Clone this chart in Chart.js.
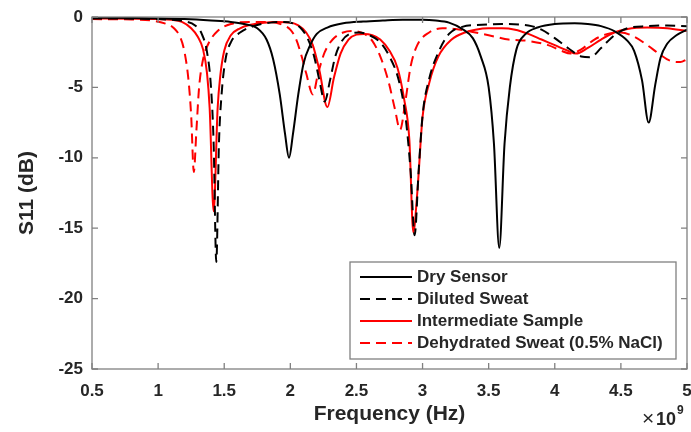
<!DOCTYPE html>
<html>
<head>
<meta charset="utf-8">
<script src="https://cdn.jsdelivr.net/npm/chart.js@4/dist/chart.umd.min.js"></script>
<style>
  body { margin: 0; background: #fff; }
  canvas { display: block; }
</style>
</head>
<body>
<canvas id="s11Chart" width="691" height="432"></canvas>
<script>
const xTicks = [0.5, 1, 1.5, 2, 2.5, 3, 3.5, 4, 4.5, 5];
const yTicks = [-25, -20, -15, -10, -5, 0];

// Dry Sensor
const dryFreq = [0.5, 0.8, 1.0, 1.2, 1.4, 1.55, 1.65, 1.75, 1.82, 1.87, 1.92, 1.96, 1.99, 2.02, 2.06, 2.1, 2.15, 2.2, 2.28, 2.4, 2.55, 2.7, 2.85, 3.0, 3.1, 3.2, 3.3, 3.38, 3.44, 3.5, 3.54, 3.58, 3.62, 3.66, 3.71, 3.78, 3.87, 4.0, 4.15, 4.25, 4.35, 4.45, 4.55, 4.6, 4.66, 4.71, 4.76, 4.8, 4.85, 4.92, 5.0];
const dryS11 = [-0.05, -0.07, -0.1, -0.15, -0.25, -0.35, -0.5, -0.8, -1.6, -3.0, -5.5, -8.3, -10.0, -8.3, -5.5, -3.3, -2.0, -1.2, -0.75, -0.45, -0.32, -0.25, -0.2, -0.2, -0.25, -0.4, -0.85, -1.5, -2.8, -5.0, -9.0, -16.4, -9.0, -5.0, -2.3, -1.2, -0.75, -0.5, -0.45, -0.5, -0.65, -1.0, -1.7, -2.4, -4.5, -7.5, -4.8, -2.9, -1.9, -1.3, -0.9];

// Diluted Sweat
const dilutedFreq = [0.5, 0.8, 1.0, 1.1, 1.2, 1.28, 1.33, 1.37, 1.4, 1.42, 1.44, 1.46, 1.48, 1.51, 1.55, 1.62, 1.72, 1.85, 1.95, 2.02, 2.08, 2.13, 2.18, 2.22, 2.26, 2.3, 2.34, 2.39, 2.45, 2.52, 2.6, 2.68, 2.75, 2.82, 2.87, 2.91, 2.94, 2.97, 3.0, 3.05, 3.12, 3.2, 3.3, 3.45, 3.6, 3.8, 3.9, 4.0, 4.1, 4.2, 4.27, 4.35, 4.45, 4.55, 4.7, 4.85, 5.0];
const dilutedS11 = [-0.1, -0.12, -0.15, -0.2, -0.3, -0.6, -1.2, -2.5, -5.0, -9.0, -17.4, -9.0, -5.5, -3.0, -1.8, -1.1, -0.65, -0.4, -0.35, -0.45, -0.8, -1.5, -2.8, -4.5, -6.0, -4.5, -2.8, -1.7, -1.2, -1.1, -1.3, -1.8, -2.8, -4.5, -7.0, -11.0, -15.5, -11.0, -7.0, -4.4, -2.5, -1.2, -0.7, -0.55, -0.5, -0.6, -0.9, -1.5, -2.2, -2.8, -2.85, -2.2, -1.3, -0.8, -0.65, -0.6, -0.65];

// Intermediate Sample
const interFreq = [0.5, 0.8, 1.0, 1.1, 1.18, 1.25, 1.3, 1.34, 1.37, 1.39, 1.42, 1.45, 1.47, 1.5, 1.55, 1.62, 1.7, 1.8, 1.9, 2.0, 2.06, 2.12, 2.17, 2.22, 2.28, 2.33, 2.38, 2.44, 2.5, 2.56, 2.62, 2.68, 2.75, 2.81, 2.86, 2.9, 2.93, 2.96, 3.0, 3.05, 3.12, 3.22, 3.32, 3.4, 3.5, 3.6, 3.7, 3.8, 3.9, 4.0, 4.1, 4.16, 4.25, 4.35, 4.45, 4.55, 4.7, 4.85, 5.0];
const interS11 = [-0.1, -0.12, -0.15, -0.2, -0.35, -0.8, -1.4, -2.3, -4.0, -6.5, -13.8, -6.5, -4.2, -2.4, -1.3, -0.8, -0.55, -0.4, -0.35, -0.4, -0.6, -1.1, -2.0, -3.8, -6.4, -4.3, -2.6, -1.6, -1.25, -1.2, -1.3, -1.6, -2.4, -3.6, -5.8, -8.7, -15.3, -12.5, -7.1, -4.7, -2.8, -1.6, -1.1, -0.9, -0.8, -0.8, -0.9, -1.2, -1.6, -2.0, -2.4, -2.6, -2.2, -1.6, -1.1, -0.85, -0.75, -0.8, -1.0];

// Dehydrated Sweat (0.5% NaCl)
const dehydFreq = [0.5, 0.8, 0.95, 1.05, 1.12, 1.17, 1.2, 1.23, 1.25, 1.27, 1.29, 1.31, 1.34, 1.38, 1.45, 1.55, 1.7, 1.85, 1.95, 2.0, 2.04, 2.08, 2.12, 2.17, 2.21, 2.26, 2.32, 2.4, 2.48, 2.56, 2.62, 2.68, 2.74, 2.79, 2.83, 2.87, 2.91, 2.96, 3.05, 3.15, 3.25, 3.4, 3.55, 3.65, 3.8, 3.95, 4.05, 4.12, 4.2, 4.3, 4.4, 4.5, 4.6, 4.7, 4.8, 4.87, 4.95, 5.0];
const dehydS11 = [-0.15, -0.18, -0.25, -0.45, -0.8, -1.5, -2.5, -4.5, -7.0, -11.0, -8.0, -5.0, -3.0, -1.9, -1.0, -0.5, -0.35, -0.35, -0.6, -0.9, -1.5, -2.6, -4.0, -5.5, -4.0, -2.5, -1.6, -1.1, -1.0, -1.2, -1.7, -2.8, -4.5, -6.5, -8.0, -6.0, -3.5, -2.0, -1.1, -0.8, -0.85, -1.1, -1.4, -1.6, -1.7, -2.0, -2.4, -2.6, -2.3, -1.6, -1.2, -1.1, -1.4, -2.0, -2.7, -3.1, -3.2, -3.0];

const toPoints = (xs, ys) => xs.map((x, i) => ({ x: x, y: ys[i] }));

const textColor = '#262626';
const axisGray = '#808080';
const fontFamily = '"Liberation Sans", Arial, Helvetica, sans-serif';

const frame = {
  id: 'frame',
  afterDatasetsDraw(chart) {
    const ctx = chart.ctx;
    const area = chart.chartArea;
    const xs = chart.scales.x;
    const ys = chart.scales.y;
    ctx.save();

    // box
    ctx.strokeStyle = axisGray;
    ctx.lineWidth = 1.3;
    ctx.setLineDash([]);
    ctx.strokeRect(area.left, area.top, area.right - area.left, area.bottom - area.top);

    // inward ticks on all four sides
    ctx.beginPath();
    xTicks.forEach(v => {
      const px = xs.getPixelForValue(v);
      ctx.moveTo(px, area.bottom); ctx.lineTo(px, area.bottom - 6);
      ctx.moveTo(px, area.top); ctx.lineTo(px, area.top + 6);
    });
    yTicks.forEach(v => {
      const py = ys.getPixelForValue(v);
      ctx.moveTo(area.left, py); ctx.lineTo(area.left + 6, py);
      ctx.moveTo(area.right, py); ctx.lineTo(area.right - 6, py);
    });
    ctx.stroke();

    // legend
    const lx = 350, ly = 262, lw = 326, lh = 97;
    ctx.fillStyle = '#fff';
    ctx.fillRect(lx, ly, lw, lh);
    ctx.strokeStyle = axisGray;
    ctx.lineWidth = 1.3;
    ctx.strokeRect(lx, ly, lw, lh);
    ctx.font = 'bold 17px ' + fontFamily;
    ctx.textBaseline = 'middle';
    ctx.textAlign = 'left';
    chart.data.datasets.forEach((ds, i) => {
      const y = 277 + i * 22;
      ctx.strokeStyle = ds.borderColor;
      ctx.lineWidth = ds.borderWidth;
      ctx.setLineDash(ds.borderDash || []);
      ctx.beginPath();
      ctx.moveTo(360, y);
      ctx.lineTo(412, y);
      ctx.stroke();
      ctx.setLineDash([]);
      ctx.fillStyle = textColor;
      ctx.fillText(ds.label, 417, y);
    });

    // exponent label
    ctx.fillStyle = textColor;
    ctx.textBaseline = 'alphabetic';
    ctx.font = '21px ' + fontFamily;
    ctx.fillText('\u00d7', 642, 425);
    ctx.font = 'bold 18px ' + fontFamily;
    ctx.fillText('10', 656, 425);
    ctx.font = 'bold 12px ' + fontFamily;
    ctx.fillText('9', 677, 414);
    ctx.restore();
  }
};

new Chart(document.getElementById('s11Chart'), {
  type: 'line',
  data: {
    datasets: [{
      label: 'Dry Sensor',
      data: toPoints(dryFreq, dryS11),
      borderColor: '#000000',
      borderWidth: 2
    }, {
      label: 'Diluted Sweat',
      data: toPoints(dilutedFreq, dilutedS11),
      borderColor: '#000000',
      borderWidth: 2,
      borderDash: [10, 6]
    }, {
      label: 'Intermediate Sample',
      data: toPoints(interFreq, interS11),
      borderColor: '#ff0000',
      borderWidth: 2
    }, {
      label: 'Dehydrated Sweat (0.5% NaCl)',
      data: toPoints(dehydFreq, dehydS11),
      borderColor: '#ff0000',
      borderWidth: 2,
      borderDash: [10, 6]
    }]
  },
  options: {
    responsive: false,
    animation: false,
    devicePixelRatio: 1,
    layout: { padding: { left: 0, right: 4, top: 17, bottom: 0 } },
    elements: {
      point: { radius: 0 },
      line: { cubicInterpolationMode: 'monotone', fill: false }
    },
    plugins: {
      legend: { display: false },
      tooltip: { enabled: false }
    },
    scales: {
      x: {
        type: 'linear',
        min: 0.5,
        max: 5,
        grid: { display: false, drawTicks: false },
        border: { display: false },
        afterBuildTicks: s => { s.ticks = xTicks.map(v => ({ value: v })); },
        afterFit: s => { s.height = 63; s.paddingLeft = 0; s.paddingRight = 0; },
        ticks: {
          color: textColor,
          padding: 12,
          maxRotation: 0,
          font: { family: fontFamily, size: 17, weight: 'bold' },
          callback: v => String(v)
        },
        title: {
          display: true,
          text: 'Frequency (Hz)',
          color: textColor,
          font: { family: fontFamily, size: 21, weight: 'bold' },
          padding: { top: 0, bottom: 5 }
        }
      },
      y: {
        min: -25,
        max: 0,
        grid: { display: false, drawTicks: false },
        border: { display: false },
        afterBuildTicks: s => { s.ticks = yTicks.map(v => ({ value: v })); },
        afterFit: s => { s.width = 92; s.paddingTop = 0; s.paddingBottom = 0; },
        ticks: {
          color: textColor,
          padding: 9,
          font: { family: fontFamily, size: 17, weight: 'bold' },
          callback: v => String(v)
        },
        title: {
          display: true,
          text: 'S11 (dB)',
          color: textColor,
          font: { family: fontFamily, size: 21, weight: 'bold' },
          padding: { top: 15, bottom: 0 }
        }
      }
    }
  },
  plugins: [frame]
});
</script>
</body>
</html>
